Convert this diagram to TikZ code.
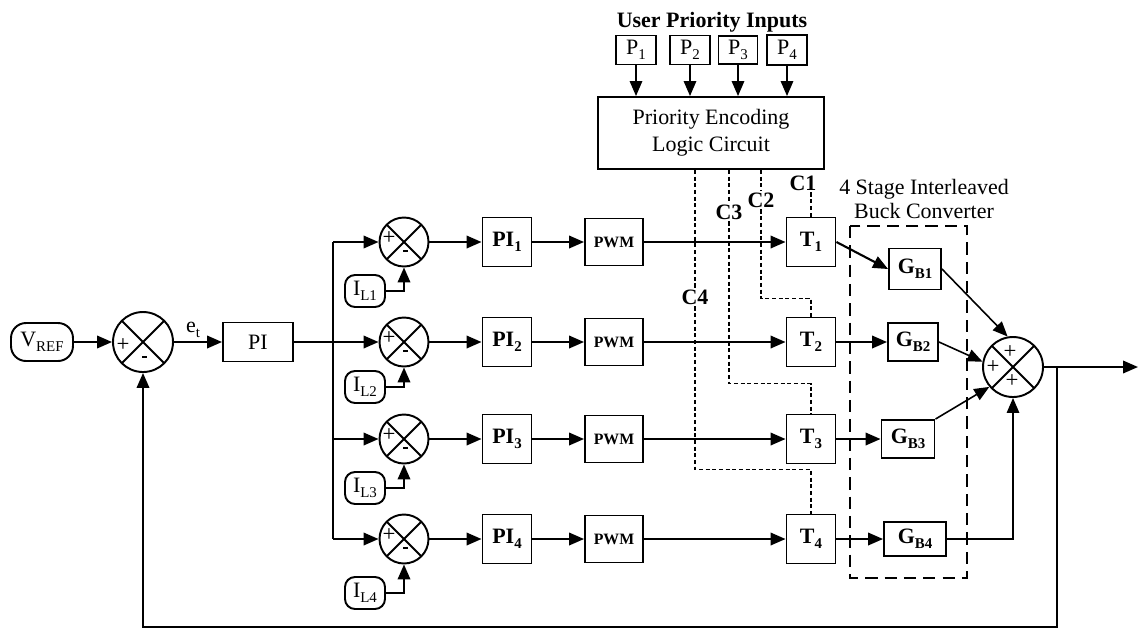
\documentclass[tikz,border=0pt]{standalone}
\usepackage{fontspec}
\setmainfont{Liberation Serif}
\usetikzlibrary{positioning,arrows.meta}
\newcommand{\sbs}[1]{\raisebox{-0.45ex}{\fontsize{8.5}{9}\selectfont #1}}

\begin{document}
\begin{tikzpicture}[
    x=0.02cm, y=-0.02cm,
    >={Triangle[length=0.3cm,width=0.25cm]},
    every node/.style={font=\fontsize{12.5}{15}\selectfont},
    blk/.style={draw,line width=1.1pt,inner sep=0pt,minimum width=0.98cm,minimum height=0.98cm},
    src/.style={draw,line width=1.1pt,rounded corners=0.2cm,inner sep=0pt,minimum width=0.8cm,minimum height=0.64cm},
    sumj/.style={circle,draw,line width=1.1pt,minimum size=0.98cm,inner sep=0pt,
      path picture={\draw[line width=1.1pt] (path picture bounding box.north west) -- (path picture bounding box.south east)
        (path picture bounding box.north east) -- (path picture bounding box.south west);}},
    sgn/.style={inner sep=0pt,font=\fontsize{13}{13}\selectfont},
    mns/.style={fill=black,inner sep=0pt,minimum width=0.1cm,minimum height=0.045cm},
    sig/.style={line width=1.2pt,->},
    ctrl/.style={line width=0.9pt,dash pattern=on 2.3pt off 1.5pt},
    clab/.style={inner sep=1pt,font=\fontsize{12.5}{15}\selectfont\bfseries},
  ]
  \useasboundingbox (0,0) rectangle (1139,630);

  % Outer voltage loop
  \node[src,minimum width=1.24cm,minimum height=0.76cm,rounded corners=0.3cm] (vref) at (42,342) {V\sbs{REF}};
  \node[sumj,minimum size=1.2cm] (sum0) at (143,342) {};
  \node[sgn] at ([shift={(-20,3)}]sum0.center) {+};
  \node[mns] at ([shift={(1,15)}]sum0.center) {};
  \node[blk,minimum width=1.4cm,minimum height=0.78cm] (pi) at (258,342) {PI};
  \draw[sig] (vref) -- (sum0);
  \draw[sig] (sum0) -- node[above=2pt,inner sep=0pt,pos=0.4] {e\sbs{t}} (pi);

  % Current loops
  \coordinate (bus) at (333,342);
  \node[sumj] (sum1) at (404,242) {};
  \node[sumj] (sum2) at (404,342) {};
  \node[sumj] (sum3) at (404,439) {};
  \node[sumj] (sum4) at (404,539) {};
  \node[sgn] at ([shift={(-15,-4)}]sum1.center) {+};
  \node[mns] at ([shift={(1,9)}]sum1.center) {};
  \node[sgn] at ([shift={(-15,-4)}]sum2.center) {+};
  \node[mns] at ([shift={(1,9)}]sum2.center) {};
  \node[sgn] at ([shift={(-15,-4)}]sum3.center) {+};
  \node[mns] at ([shift={(1,9)}]sum3.center) {};
  \node[sgn] at ([shift={(-15,-4)}]sum4.center) {+};
  \node[mns] at ([shift={(1,9)}]sum4.center) {};
  \draw[line width=1.2pt] (bus |- sum1) -- (bus |- sum4);
  \draw[sig] (bus |- sum1) -- (sum1);
  \draw[sig] (pi) -- (sum2);
  \draw[sig] (bus |- sum3) -- (sum3);
  \draw[sig] (bus |- sum4) -- (sum4);

  \node[src] (il1) at (365,291) {I\sbs{L1}};
  \node[src] (il2) at (365,387) {I\sbs{L2}};
  \node[src] (il3) at (365,488) {I\sbs{L3}};
  \node[src] (il4) at (365,593) {I\sbs{L4}};
  \draw[sig] (il1.east) -| (sum1.south);
  \draw[sig] (il2.east) -| (sum2.south);
  \draw[sig] (il3.east) -| (sum3.south);
  \draw[sig] (il4.east) -| (sum4.south);

  % PI, PWM and switching
  \node[blk] (pi1) at (507,242) {\bfseries PI\sbs{1}};
  \node[blk] (pi2) at (507,342) {\bfseries PI\sbs{2}};
  \node[blk] (pi3) at (507,439) {\bfseries PI\sbs{3}};
  \node[blk] (pi4) at (507,539) {\bfseries PI\sbs{4}};
  \node[blk,minimum width=1.16cm,minimum height=0.94cm] (pwm1) at (614,242) {\fontsize{9}{9}\selectfont\bfseries PWM};
  \node[blk,minimum width=1.16cm,minimum height=0.94cm] (pwm2) at (614,342) {\fontsize{9}{9}\selectfont\bfseries PWM};
  \node[blk,minimum width=1.16cm,minimum height=0.94cm] (pwm3) at (614,439) {\fontsize{9}{9}\selectfont\bfseries PWM};
  \node[blk,minimum width=1.16cm,minimum height=0.94cm] (pwm4) at (614,539) {\fontsize{9}{9}\selectfont\bfseries PWM};
  \node[blk] (t1) at (811,242) {\bfseries T\sbs{1}};
  \node[blk] (t2) at (811,342) {\bfseries T\sbs{2}};
  \node[blk] (t3) at (811,439) {\bfseries T\sbs{3}};
  \node[blk] (t4) at (811,539) {\bfseries T\sbs{4}};
  \draw[sig] (sum1) -- (pi1);
  \draw[sig] (sum2) -- (pi2);
  \draw[sig] (sum3) -- (pi3);
  \draw[sig] (sum4) -- (pi4);
  \draw[sig] (pi1) -- (pwm1);
  \draw[sig] (pi2) -- (pwm2);
  \draw[sig] (pi3) -- (pwm3);
  \draw[sig] (pi4) -- (pwm4);
  \draw[sig] (pwm1) -- (t1);
  \draw[sig] (pwm2) -- (t2);
  \draw[sig] (pwm3) -- (t3);
  \draw[sig] (pwm4) -- (t4);

  % Buck stages
  \draw[line width=1pt,dash pattern=on 7pt off 4pt] (850,226) rectangle (967,578);
  \node[align=center,font=\fontsize{12.5}{14.2}\selectfont] (bcl) at (924,199) {4 Stage Interleaved\\Buck Converter};
  \node[blk,minimum width=1.04cm,minimum height=0.82cm] (gb1) at (915,269) {\bfseries G\sbs{B1}};
  \node[blk,minimum width=1.0cm,minimum height=0.76cm] (gb2) at (913,342) {\bfseries G\sbs{B2}};
  \node[blk,minimum width=1.06cm,minimum height=0.76cm] (gb3) at (908,439) {\bfseries G\sbs{B3}};
  \node[blk,minimum width=1.24cm,minimum height=0.68cm] (gb4) at (915,539) {\bfseries G\sbs{B4}};
  \draw[sig] (t1.east) -- (gb1.west);
  \draw[sig] (t2) -- (gb2);
  \draw[sig] (t3) -- (gb3);
  \draw[sig] (t4) -- (gb4);

  % Output sum and feedback
  \node[sumj,minimum size=1.2cm] (sumo) at (1013,367) {};
  \node[sgn] at ([shift={(-3,-15)}]sumo.center) {+};
  \node[sgn] at ([shift={(-20,0)}]sumo.center) {+};
  \node[sgn] at ([shift={(-1,14)}]sumo.center) {+};
  \draw[sig,line width=0.9pt] (gb1.east) -- (sumo.100);
  \draw[sig,line width=0.9pt] (gb2.east) -- (sumo.170);
  \draw[sig,line width=0.9pt] (gb3.north east) -- (sumo.220);
  \draw[sig,line width=0.9pt] (gb4.east) -| (sumo.south);
  \coordinate (out) at (1138,367);
  \coordinate (br) at (1057,367);
  \draw[sig] (sumo) -- (out);
  \draw[sig] (br) -- ++(0,260) -| (sum0.south);

  % Priority encoding
  \node[font=\fontsize{12.5}{15}\selectfont\bfseries] (upi) at (712,22) {User Priority Inputs};
  \node[draw,line width=1.1pt,inner sep=0pt,minimum width=0.8cm,minimum height=0.58cm] (p1) at (636,50) {P\sbs{1}};
  \node[draw,line width=1.1pt,inner sep=0pt,minimum width=0.8cm,minimum height=0.58cm] (p2) at (690,50) {P\sbs{2}};
  \node[draw,line width=1.1pt,inner sep=0pt,minimum width=0.78cm,minimum height=0.56cm] (p3) at (738,50) {P\sbs{3}};
  \node[draw,line width=1.1pt,inner sep=0pt,minimum width=0.8cm,minimum height=0.6cm] (p4) at (787,50) {P\sbs{4}};
  \node[draw,line width=1.1pt,minimum width=4.52cm,minimum height=1.44cm,align=center,
    font=\fontsize{12.5}{15.4}\selectfont] (pec) at (711,133) {Priority Encoding\\Logic Circuit};
  \draw[->,line width=0.9pt] (p1) -- (p1 |- pec.north);
  \draw[->,line width=0.9pt] (p2) -- (p2 |- pec.north);
  \draw[->,line width=0.9pt] (p3) -- (p3 |- pec.north);
  \draw[->,line width=0.9pt] (p4) -- (p4 |- pec.north);

  % Control signals
  \node[clab] (c1) at (803,183) {C1};
  \node[clab] (c2) at (761,200) {C2};
  \node[clab] (c3) at (729,212) {C3};
  \node[clab] (c4) at (695,297) {C4};
  \coordinate (k2) at ([yshift=0.36cm]t2.north);
  \coordinate (k3) at ([yshift=0.6cm]t3.north);
  \coordinate (k4) at ([yshift=0.88cm]t4.north);
  \draw[ctrl] (t1.north) -- (t1.north |- c1.south);
  \draw[ctrl] (c2 |- pec.south) -- (c2.north);
  \draw[ctrl] (c2.south) |- (k2) -- (t2.north);
  \draw[ctrl] (c3 |- pec.south) -- (c3.north);
  \draw[ctrl] (c3.south) |- (k3) -- (t3.north);
  \draw[ctrl] (c4 |- pec.south) -- (c4.north);
  \draw[ctrl] (c4.south) |- (k4) -- (t4.north);
\end{tikzpicture}
\end{document}
